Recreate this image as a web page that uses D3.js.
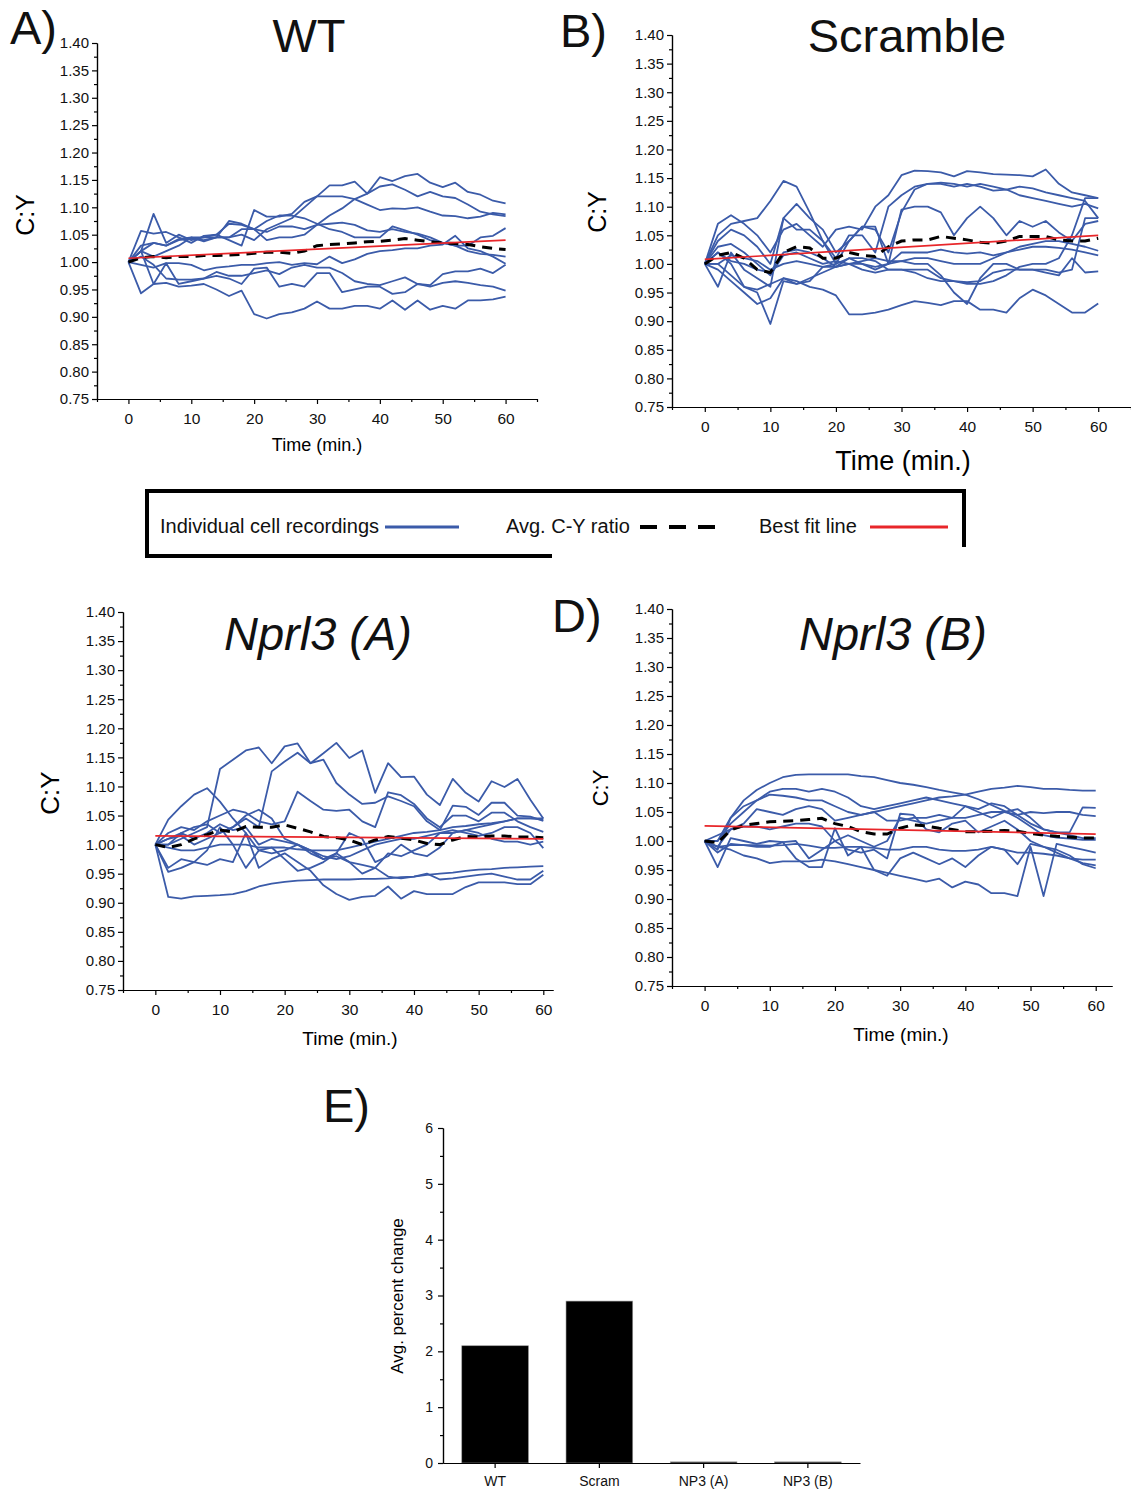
<!DOCTYPE html>
<html lang="en">
<head>
<meta charset="utf-8">
<title>C:Y ratio over time</title>
<script src="https://cdn.jsdelivr.net/npm/d3@7"></script>
<style>
  body { margin: 0; background: #fff; }
  svg { display: block; font-family: "Liberation Sans", Arial, sans-serif; }
  .axis path, .axis line { stroke: #000; stroke-width: 1.2; }
  .axis text { fill: #111; }
</style>
</head>
<body>
<script>

// time points (min.)
var times = [0,2,4,6,8,10,12,14,16,18,20,22,24,26,28,30,32,34,36,38,40,42,44,46,48,50,52,54,56,58,60];

var yTicks = [0.75,0.80,0.85,0.90,0.95,1.00,1.05,1.10,1.15,1.20,1.25,1.30,1.35,1.40];
var xTicks = [0,10,20,30,40,50,60];
var xMinorTicks = [-5,5,15,25,35,45,55,65];

// WT
var wtCells = [
  [1.000,1.057,1.052,1.055,1.045,1.035,1.048,1.050,1.040,1.030,1.095,1.083,1.083,1.088,1.110,1.120,1.140,1.140,1.147,1.125,1.155,1.148,1.157,1.161,1.145,1.137,1.145,1.128,1.123,1.112,1.107],
  [1.000,1.030,1.035,1.030,1.040,1.043,1.040,1.045,1.045,1.050,1.040,1.060,1.070,1.080,1.100,1.120,1.120,1.120,1.115,1.105,1.095,1.098,1.097,1.100,1.092,1.085,1.084,1.080,1.083,1.090,1.087],
  [1.000,1.020,1.035,1.030,1.042,1.045,1.038,1.045,1.075,1.070,1.060,1.040,1.045,1.045,1.050,1.068,1.085,1.098,1.115,1.125,1.138,1.142,1.132,1.120,1.128,1.120,1.117,1.105,1.092,1.087,1.084],
  [1.000,1.020,1.088,1.035,1.050,1.040,1.045,1.045,1.045,1.060,1.060,1.075,1.085,1.085,1.080,1.070,1.060,1.055,1.045,1.045,1.045,1.065,1.058,1.050,1.040,1.035,1.030,1.030,1.045,1.048,1.062],
  [1.000,1.020,1.010,1.020,1.030,1.045,1.045,1.050,1.070,1.068,1.060,1.055,1.065,1.065,1.060,1.068,1.070,1.072,1.068,1.058,1.055,1.060,1.055,1.052,1.045,1.035,1.030,1.020,1.015,1.013,1.010],
  [1.000,0.995,0.990,0.998,0.998,0.995,0.985,0.990,0.992,0.995,0.995,0.998,1.000,0.995,0.998,0.996,1.010,0.998,1.005,1.015,1.020,1.022,1.025,1.025,1.030,1.032,1.048,1.025,1.020,1.010,0.997],
  [1.000,0.943,0.960,0.998,0.960,0.965,0.970,0.975,0.970,0.960,0.988,0.990,0.955,0.960,0.955,0.980,0.980,0.945,0.950,0.955,0.955,0.942,0.945,0.960,0.958,0.978,0.983,0.983,0.988,0.980,0.995],
  [1.000,1.010,0.995,0.970,0.968,0.968,0.970,0.982,0.975,0.975,0.980,0.985,0.978,0.990,0.995,0.990,0.990,0.980,0.965,0.960,0.958,0.965,0.972,0.960,0.955,0.962,0.965,0.962,0.958,0.955,0.948],
  [1.000,1.020,0.960,0.962,0.955,0.957,0.960,0.950,0.938,0.948,0.905,0.897,0.905,0.908,0.915,0.928,0.915,0.915,0.920,0.920,0.915,0.930,0.913,0.930,0.913,0.920,0.915,0.930,0.930,0.932,0.937]
];
var wtAvg = [1.000,1.008,1.010,1.008,1.010,1.010,1.012,1.012,1.013,1.014,1.016,1.018,1.018,1.016,1.020,1.030,1.032,1.033,1.035,1.037,1.038,1.040,1.043,1.040,1.037,1.035,1.034,1.032,1.028,1.025,1.023];
var wtFit = [1.007, 1.040];   // at t = 0 and t = 60

// Scramble
var scrCells = [
  [1.000,1.070,1.085,1.070,1.050,1.020,1.060,1.070,1.050,1.030,1.060,1.065,1.060,1.100,1.120,1.155,1.163,1.162,1.160,1.153,1.162,1.160,1.157,1.156,1.155,1.153,1.165,1.140,1.125,1.120,1.115],
  [1.000,1.050,1.070,1.075,1.080,1.110,1.145,1.135,1.090,1.040,1.010,1.050,1.050,1.020,1.100,1.120,1.135,1.140,1.140,1.135,1.140,1.135,1.128,1.130,1.120,1.115,1.110,1.105,1.100,1.105,1.097],
  [1.000,1.040,1.060,1.050,1.030,1.000,1.080,1.105,1.080,1.060,1.020,1.040,1.065,1.060,1.020,1.090,1.130,1.140,1.142,1.140,1.135,1.140,1.135,1.130,1.135,1.132,1.125,1.120,1.115,1.110,1.080],
  [1.000,0.960,1.020,0.990,0.975,0.960,1.080,1.060,1.060,1.040,1.000,1.040,1.065,1.065,1.000,1.095,1.100,1.100,1.090,1.050,1.080,1.100,1.080,1.050,1.075,1.065,1.075,1.055,1.040,1.070,1.075],
  [1.000,1.020,1.005,1.000,0.990,0.985,1.020,1.025,1.020,1.010,0.995,1.010,1.000,0.995,1.000,1.020,1.020,1.020,1.025,1.020,1.018,1.020,1.015,1.020,1.030,1.035,1.040,1.040,1.035,1.030,1.023],
  [1.000,1.030,1.035,1.020,1.000,0.980,1.015,1.020,1.010,1.000,1.005,1.000,1.005,1.010,1.005,1.005,1.010,1.010,1.005,1.000,1.000,1.000,1.010,1.020,1.025,1.030,1.030,1.028,1.025,1.020,1.015],
  [1.000,0.990,0.970,0.950,0.930,0.940,0.975,0.965,0.975,0.985,0.995,1.000,1.000,0.990,1.000,1.005,1.000,1.000,0.980,0.950,0.930,0.975,1.000,1.000,0.990,0.990,0.990,0.985,0.990,1.080,1.080],
  [1.000,1.000,0.980,0.960,0.950,0.895,0.970,0.965,0.970,0.995,0.995,1.000,0.990,0.985,0.990,0.990,0.990,0.990,0.975,0.970,0.968,0.970,0.985,0.990,0.990,0.990,0.985,0.980,1.010,0.985,0.987],
  [1.000,1.020,1.000,0.960,0.955,0.965,0.975,0.970,0.960,0.955,0.945,0.912,0.912,0.915,0.920,0.928,0.935,0.932,0.928,0.935,0.935,0.920,0.920,0.915,0.940,0.955,0.945,0.930,0.915,0.915,0.931],
  [1.000,1.000,1.015,1.010,1.005,0.990,1.000,1.005,1.000,0.995,1.000,1.010,1.010,1.005,0.990,0.990,0.985,0.975,0.970,0.970,0.965,0.965,0.970,0.980,0.995,1.000,1.000,1.010,1.050,1.115,1.115]
];
var scrAvg = [1.000,1.015,1.020,1.010,0.990,0.985,1.020,1.030,1.028,1.010,1.010,1.020,1.015,1.013,1.030,1.040,1.042,1.042,1.048,1.045,1.042,1.038,1.036,1.040,1.048,1.048,1.048,1.042,1.040,1.040,1.045];
var scrFit = [1.008, 1.050];

// Nprl3 (A)
var npaCells = [
  [1.000,1.000,1.010,1.020,1.030,1.130,1.146,1.162,1.167,1.140,1.169,1.174,1.140,1.157,1.175,1.149,1.162,1.089,1.140,1.116,1.117,1.086,1.068,1.113,1.089,1.074,1.109,1.099,1.113,1.077,1.045],
  [1.000,1.010,1.020,1.030,1.035,1.020,1.030,1.045,1.030,1.126,1.143,1.158,1.140,1.146,1.106,1.086,1.070,1.072,1.083,1.075,1.066,1.040,1.025,1.067,1.065,1.051,1.072,1.072,1.050,1.048,1.041],
  [1.000,1.043,1.066,1.086,1.097,1.074,1.045,1.020,0.990,0.985,0.990,1.000,0.990,0.980,0.975,0.980,0.990,1.000,1.005,1.010,1.010,1.015,1.020,1.020,1.025,1.030,1.035,1.040,1.045,1.045,1.043],
  [1.000,1.020,1.030,1.025,1.040,1.050,1.060,1.055,1.040,1.035,1.040,1.091,1.075,1.060,1.058,1.060,1.040,1.030,1.090,1.085,1.070,1.045,1.030,1.050,1.050,1.040,1.055,1.055,1.040,1.030,1.022],
  [1.000,0.995,0.990,0.990,0.995,1.000,1.000,1.000,0.995,0.995,0.995,0.992,0.990,0.990,0.990,0.995,1.000,1.005,1.010,1.015,1.020,1.022,1.025,1.030,1.032,1.035,1.037,1.040,1.045,1.045,1.045],
  [1.000,1.000,1.020,1.010,1.020,1.035,1.025,1.030,1.000,1.010,1.005,1.000,0.990,0.975,0.985,1.020,1.010,0.970,0.980,1.000,0.985,0.980,0.995,1.020,1.025,1.020,1.010,1.005,1.005,1.000,1.005],
  [1.000,0.960,0.975,0.970,0.990,1.030,1.000,0.960,0.990,0.995,0.975,0.955,0.960,0.970,0.985,0.970,0.950,0.960,0.985,0.980,0.990,1.000,1.020,1.025,1.020,1.015,1.020,1.030,1.030,1.020,0.994],
  [1.000,0.953,0.960,0.970,0.965,0.975,0.970,1.020,0.960,0.975,0.985,0.970,0.955,0.930,0.915,0.905,0.910,0.912,0.928,0.907,0.920,0.915,0.915,0.915,0.927,0.935,0.935,0.935,0.932,0.932,0.948],
  [1.000,0.910,0.907,0.911,0.912,0.913,0.915,0.920,0.928,0.933,0.936,0.938,0.939,0.940,0.940,0.940,0.941,0.941,0.942,0.944,0.945,0.948,0.950,0.952,0.955,0.957,0.958,0.960,0.961,0.962,0.963],
  [1.000,1.010,1.015,1.000,1.010,1.020,1.030,1.050,1.060,1.045,1.010,1.000,0.985,0.975,0.980,0.970,0.965,0.960,0.945,0.942,0.945,0.950,0.940,0.942,0.945,0.948,0.950,0.945,0.940,0.940,0.955]
];
var npaAvg = [1.000,0.995,1.000,1.010,1.017,1.025,1.022,1.031,1.030,1.030,1.034,1.028,1.022,1.014,1.012,1.008,1.000,1.008,1.014,1.011,1.008,1.002,1.000,1.008,1.014,1.013,1.015,1.015,1.013,1.013,1.012];
var npaFit = [1.015, 1.010];

// Nprl3 (B)
var npbCells = [
  [1.000,1.000,1.040,1.070,1.088,1.100,1.110,1.114,1.115,1.115,1.115,1.115,1.112,1.110,1.105,1.100,1.097,1.093,1.088,1.084,1.080,1.072,1.062,1.052,1.040,1.025,1.010,1.006,1.004,1.002,1.002],
  [1.000,0.985,1.040,1.060,1.070,1.080,1.078,1.075,1.070,1.070,1.060,1.050,1.045,1.050,1.055,1.060,1.065,1.070,1.075,1.077,1.080,1.085,1.090,1.092,1.095,1.093,1.090,1.090,1.088,1.087,1.087],
  [1.000,1.000,1.030,1.050,1.070,1.085,1.090,1.090,1.085,1.090,1.085,1.075,1.060,1.055,1.060,1.065,1.070,1.075,1.070,1.065,1.060,1.055,1.065,1.060,1.045,1.030,1.020,1.015,1.015,1.058,1.057],
  [1.000,1.010,1.020,1.030,1.055,1.050,1.045,1.055,1.060,1.055,1.035,1.040,1.045,1.050,1.035,1.035,1.040,1.040,1.045,1.040,1.040,1.045,1.050,1.050,1.045,1.050,1.048,1.050,1.050,1.045,1.043],
  [1.000,0.990,1.020,1.025,1.025,1.020,1.025,1.030,1.030,1.025,1.000,1.010,1.000,0.990,1.000,1.040,1.035,1.030,1.035,1.040,1.060,1.050,1.040,1.050,1.055,1.040,1.020,1.015,1.010,1.005,1.005],
  [1.000,0.980,0.995,0.993,0.990,0.990,0.998,1.000,0.970,0.985,1.000,0.985,0.980,0.985,0.970,1.047,1.045,1.020,1.015,1.030,1.035,1.015,1.025,1.035,1.020,1.000,0.990,0.980,0.970,0.962,0.958],
  [1.000,0.990,0.993,0.993,0.993,0.992,0.993,0.995,0.992,0.988,0.988,0.990,0.990,0.988,0.985,0.985,0.990,0.990,0.985,0.983,0.983,0.985,0.990,0.985,0.980,0.980,0.978,0.975,0.970,0.968,0.968],
  [1.000,0.955,1.005,1.000,0.995,1.000,0.998,0.970,0.955,0.955,1.022,0.975,0.990,0.950,0.940,0.970,0.980,0.970,0.960,0.970,0.955,0.975,0.990,0.985,0.960,0.995,0.990,0.985,0.975,0.960,0.953],
  [1.000,0.990,0.985,0.975,0.970,0.962,0.965,0.965,0.965,0.968,0.965,0.960,0.955,0.950,0.945,0.940,0.935,0.930,0.935,0.920,0.930,0.925,0.910,0.910,0.905,0.990,0.905,0.995,0.990,0.985,0.980]
];
var npbAvg = [1.000,0.997,1.019,1.027,1.030,1.033,1.034,1.035,1.037,1.039,1.030,1.025,1.016,1.012,1.012,1.022,1.028,1.026,1.022,1.020,1.016,1.016,1.017,1.018,1.017,1.013,1.010,1.008,1.007,1.005,1.005];
var npbFit = [1.026, 1.012];

// E) bar chart
var barCategories = ["WT", "Scram", "NP3 (A)", "NP3 (B)"];
var barValues = [2.1, 2.9, 0.02, 0.02];
var barTicks = [0,1,2,3,4,5,6];

var blue = "#3b5ba9", red = "#e8262a";

var svg = d3.select("body").append("svg")
  .attr("width", 1131)
  .attr("height", 1493);

var panels = [
  {cells: wtCells, avg: wtAvg, fit: wtFit, left: 97, right: 537, top: 43, bottom: 399, xMax: 65,
   title: "WT", italic: false, tx: 309, ty: 52, letter: "A)", lx: 10, ly: 44,
   ylab: [25, 215, 25], xlab: [317, 451, 18]},
  {cells: scrCells, avg: scrAvg, fit: scrFit, left: 672, right: 1131, top: 35, bottom: 407, xMax: 65,
   title: "Scramble", italic: false, tx: 907, ty: 52, letter: "B)", lx: 560, ly: 47,
   ylab: [597, 212, 25], xlab: [903, 470, 27]},
  {cells: npaCells, avg: npaAvg, fit: npaFit, left: 123, right: 553, top: 612, bottom: 990, xMax: 61.5,
   title: "Nprl3 (A)", italic: true, tx: 318, ty: 650, letter: null,
   ylab: [50, 793, 26], xlab: [350, 1045, 19]},
  {cells: npbCells, avg: npbAvg, fit: npbFit, left: 672, right: 1112, top: 609, bottom: 986, xMax: 62.5,
   title: "Nprl3 (B)", italic: true, tx: 893, ty: 650, letter: "D)", lx: 552, ly: 632,
   ylab: [600, 788, 22], xlab: [901, 1041, 19]}
];

var yMinorTicks = d3.pairs(yTicks).map(function(p) { return (p[0] + p[1]) / 2; });

function styleAxis(g, size) {
  g.attr("class", "axis").attr("font-size", size).attr("font-family", null);
}

panels.forEach(function(p) {
  var x = d3.scaleLinear().domain([-5, p.xMax]).range([p.left, p.right]);
  var y = d3.scaleLinear().domain([0.75, 1.40]).range([p.bottom, p.top]);
  var g = svg.append("g");

  g.append("g").attr("transform", "translate(" + p.left + ",0)")
    .call(d3.axisLeft(y).tickValues(yMinorTicks).tickSize(3).tickSizeOuter(0).tickFormat(""))
    .call(styleAxis, 15);
  g.append("g").attr("transform", "translate(" + p.left + ",0)")
    .call(d3.axisLeft(y).tickValues(yTicks).tickSize(5).tickSizeOuter(0).tickPadding(3).tickFormat(d3.format(".2f")))
    .call(styleAxis, 15);

  g.append("g").attr("transform", "translate(0," + p.bottom + ")")
    .call(d3.axisBottom(x).tickValues(xMinorTicks.filter(function(d) { return d <= p.xMax; }))
      .tickSize(3).tickSizeOuter(0).tickFormat(""))
    .call(styleAxis, 15);
  g.append("g").attr("transform", "translate(0," + p.bottom + ")")
    .call(d3.axisBottom(x).tickValues(xTicks).tickSize(5).tickSizeOuter(0).tickPadding(9))
    .call(styleAxis, 15.5);

  var line = d3.line()
    .x(function(d, i) { return x(times[i]); })
    .y(function(d) { return y(d); });

  g.selectAll("path.cell")
    .data(p.cells)
    .enter()
    .append("path")
    .attr("class", "cell")
    .attr("d", line)
    .attr("fill", "none")
    .attr("stroke", blue)
    .attr("stroke-width", 1.8)
    .attr("stroke-linejoin", "round");

  g.append("path")
    .datum(p.avg)
    .attr("d", line)
    .attr("fill", "none")
    .attr("stroke", "#000")
    .attr("stroke-width", 3)
    .attr("stroke-dasharray", "10,7");

  g.append("line")
    .attr("x1", x(0)).attr("y1", y(p.fit[0]))
    .attr("x2", x(60)).attr("y2", y(p.fit[1]))
    .attr("stroke", red)
    .attr("stroke-width", 1.7);

  g.append("text")
    .attr("transform", "translate(" + p.ylab[0] + "," + p.ylab[1] + ") rotate(-90)")
    .attr("text-anchor", "middle")
    .attr("dy", "0.35em")
    .attr("font-size", p.ylab[2])
    .text("C:Y");

  g.append("text")
    .attr("x", p.xlab[0]).attr("y", p.xlab[1])
    .attr("text-anchor", "middle")
    .attr("font-size", p.xlab[2])
    .text("Time (min.)");

  g.append("text")
    .attr("x", p.tx).attr("y", p.ty)
    .attr("text-anchor", "middle")
    .attr("font-size", 47)
    .attr("font-style", p.italic ? "italic" : "normal")
    .attr("fill", "#111")
    .text(p.title);

  if (p.letter) {
    g.append("text")
      .attr("x", p.lx).attr("y", p.ly)
      .attr("font-size", 47)
      .attr("fill", "#111")
      .text(p.letter);
  }
});

// legend
var legend = svg.append("g");
legend.append("path")
  .attr("d", "M147,558 V491 H964 V547 M147,556 H552")
  .attr("fill", "none")
  .attr("stroke", "#000")
  .attr("stroke-width", 4);

var legendItems = [
  {label: "Individual cell recordings", tx: 160, x1: 385, x2: 459, color: blue, width: 3, dash: null},
  {label: "Avg. C-Y ratio", tx: 506, x1: 640, x2: 716, color: "#000", width: 4, dash: "17,12"},
  {label: "Best fit line", tx: 759, x1: 870, x2: 948, color: red, width: 3, dash: null}
];
legendItems.forEach(function(d) {
  legend.append("text").attr("x", d.tx).attr("y", 533).attr("font-size", 20).attr("fill", "#111").text(d.label);
  legend.append("line")
    .attr("x1", d.x1).attr("x2", d.x2).attr("y1", 527).attr("y2", 527)
    .attr("stroke", d.color).attr("stroke-width", d.width)
    .attr("stroke-dasharray", d.dash);
});

// E) bar chart
var bx = d3.scaleBand().domain(barCategories).range([443, 860]).paddingInner(0.36).paddingOuter(0.18);
var by = d3.scaleLinear().domain([0, 6]).range([1463, 1128]);
var eg = svg.append("g");

eg.selectAll("rect")
  .data(barValues)
  .enter()
  .append("rect")
  .attr("x", function(d, i) { return bx(barCategories[i]); })
  .attr("width", bx.bandwidth())
  .attr("y", function(d) { return by(d); })
  .attr("height", function(d) { return by(0) - by(d); })
  .attr("fill", "#000")
  .attr("stroke", "#999")
  .attr("stroke-width", 0.6);

var barMinor = d3.pairs(barTicks).map(function(p) { return (p[0] + p[1]) / 2; });
eg.append("g").attr("transform", "translate(443,0)")
  .call(d3.axisLeft(by).tickValues(barMinor).tickSize(3).tickSizeOuter(0).tickFormat(""))
  .call(styleAxis, 14);
eg.append("g").attr("transform", "translate(443,0)")
  .call(d3.axisLeft(by).tickValues(barTicks).tickSize(5).tickSizeOuter(0).tickPadding(5).tickFormat(d3.format("d")))
  .call(styleAxis, 14);
eg.append("g").attr("transform", "translate(0,1463)")
  .call(d3.axisBottom(bx).tickSize(5).tickSizeOuter(0).tickPadding(8))
  .call(styleAxis, 14);

eg.append("text")
  .attr("transform", "translate(397,1296) rotate(-90)")
  .attr("text-anchor", "middle")
  .attr("dy", "0.35em")
  .attr("font-size", 17)
  .text("Avg. percent change");

eg.append("text")
  .attr("x", 323).attr("y", 1122)
  .attr("font-size", 47)
  .attr("fill", "#111")
  .text("E)");

</script>
</body>
</html>
